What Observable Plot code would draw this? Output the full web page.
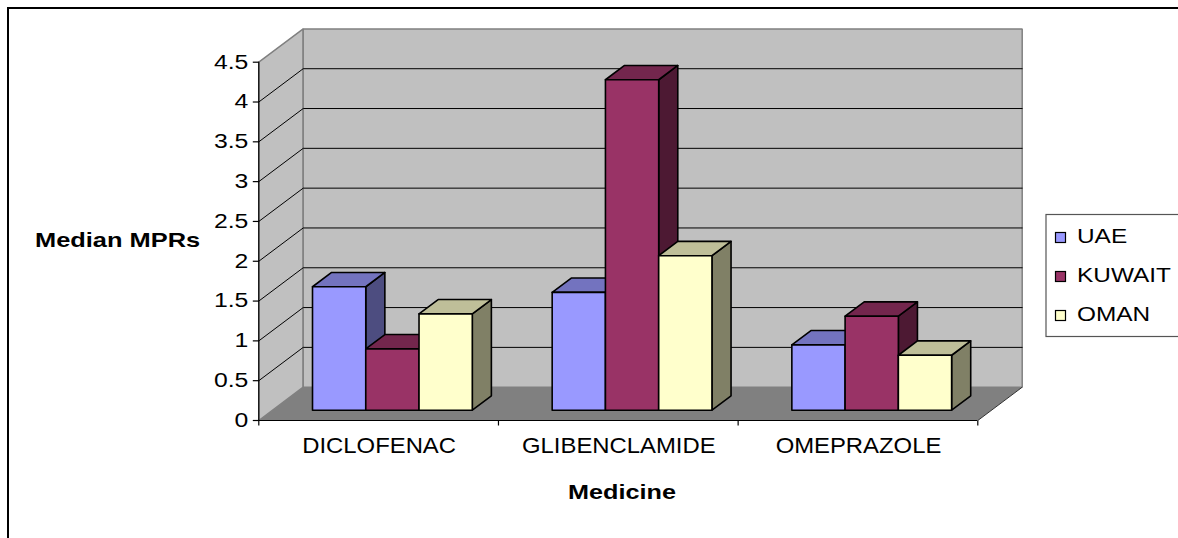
<!DOCTYPE html>
<html>
<head>
<meta charset="utf-8">
<script src="https://cdn.jsdelivr.net/npm/d3@7"></script>
<script src="https://cdn.jsdelivr.net/npm/@observablehq/plot@0.6"></script>
<style>
  html, body { margin: 0; padding: 0; background: #fff; overflow: hidden; }
  body { width: 1178px; height: 538px; position: relative; font-family: "Liberation Sans", Arial, sans-serif; }
  #chart { position: absolute; left: 0; top: 0; }
  #overlay { position: absolute; left: 0; top: 0; pointer-events: none; }
  #frame { position: absolute; left: 7px; top: 7px; width: 1400px; height: 800px; border: 2px solid #000; box-sizing: border-box; pointer-events: none; }
</style>
</head>
<body>
<div id="chart"></div>
<svg id="overlay" width="1178" height="538"></svg>
<div id="frame"></div>
<script>
// Median MPRs per medicine and country
const medicines = ["DICLOFENAC", "GLIBENCLAMIDE", "OMEPRAZOLE"];
const countries = ["UAE", "KUWAIT", "OMAN"];
const uae    = [1.55, 1.48, 0.82];
const kuwait = [0.77, 4.15, 1.18];
const oman   = [1.21, 1.94, 0.69];
const yTicks = [0, 0.5, 1, 1.5, 2, 2.5, 3, 3.5, 4, 4.5];
const yMax = 4.5;

// face colours: front, top, side
const palette = {
  UAE:    ["#9999FF", "#7373BF", "#4D4D80"],
  KUWAIT: ["#993366", "#73264D", "#4D1933"],
  OMAN:   ["#FFFFCC", "#BFBF99", "#808066"]
};
const seriesValues = {UAE: uae, KUWAIT: kuwait, OMAN: oman};

// plot area of the front plane, in pixels
const X_RANGE = [258.3, 977.3];
const Y_RANGE = [420, 61.7];
const pxPerX = (X_RANGE[1] - X_RANGE[0]) / medicines.length;
const pxPerY = (Y_RANGE[0] - Y_RANGE[1]) / yMax;
// oblique depth of the 3-D box, in pixels (right, up)
const DEPTH = [44.4, 33.3];
const BAR_FRONT = 0.31, BAR_BACK = 0.74;   // depth fraction occupied by the bars
const GAP = 1.5;                            // gap width relative to one bar
const barW = 1 / (countries.length + GAP);

// project a point (category units, value, depth fraction) to data coordinates
function proj(xu, v, d) {
  return {x: xu + d * DEPTH[0] / pxPerX, y: v + d * DEPTH[1] / pxPerY};
}
function polygon(rows, id, pts, fill) {
  pts.concat([pts[0]]).forEach(p => rows.push({id, fill, x: p.x, y: p.y}));
}

const nCat = medicines.length;

// walls and floor
const walls = [];
polygon(walls, "left", [proj(0, 0, 0), proj(0, 0, 1), proj(0, yMax, 1), proj(0, yMax, 0)], "#C0C0C0");
polygon(walls, "back", [proj(0, 0, 1), proj(nCat, 0, 1), proj(nCat, yMax, 1), proj(0, yMax, 1)], "#C0C0C0");
const floor = [];
polygon(floor, "floor", [proj(0, 0, 0), proj(nCat, 0, 0), proj(nCat, 0, 1), proj(0, 0, 1)], "#808080");

// gridlines: diagonal on the side wall + horizontal on the back wall
const grid = [];
yTicks.filter(t => t > 0 && t < yMax).forEach(t => {
  [proj(0, t, 0), proj(0, t, 1), proj(nCat, t, 1)].forEach(p => grid.push({id: t, x: p.x, y: p.y}));
});

// bars: side, top and front faces, drawn left to right
const bars = [];
medicines.forEach((m, i) => {
  countries.forEach((c, s) => {
    const v = seriesValues[c][i];
    const x0 = i + (GAP / 2) * barW + s * barW, x1 = x0 + barW;
    const [front, top, side] = palette[c];
    polygon(bars, `${m}-${c}-side`, [proj(x1, 0, BAR_FRONT), proj(x1, 0, BAR_BACK), proj(x1, v, BAR_BACK), proj(x1, v, BAR_FRONT)], side);
    polygon(bars, `${m}-${c}-top`, [proj(x0, v, BAR_FRONT), proj(x1, v, BAR_FRONT), proj(x1, v, BAR_BACK), proj(x0, v, BAR_BACK)], top);
    polygon(bars, `${m}-${c}-front`, [proj(x0, 0, BAR_FRONT), proj(x1, 0, BAR_FRONT), proj(x1, v, BAR_FRONT), proj(x0, v, BAR_FRONT)], front);
  });
});

const catEdges = d3.range(nCat + 1);

const chart = Plot.plot({
  width: 1178,
  height: 538,
  margin: 0,
  x: {type: "linear", domain: [0, nCat], range: X_RANGE, axis: null},
  y: {type: "linear", domain: [0, yMax], range: Y_RANGE, axis: null},
  color: {type: "identity"},
  style: {background: "transparent"},
  marks: [
    Plot.line(walls, {x: "x", y: "y", z: "id", fill: "fill", stroke: "#808080", strokeWidth: 1.5, strokeLinejoin: "miter"}),
    Plot.line(floor, {x: "x", y: "y", z: "id", fill: "fill", stroke: "none"}),
    // right edge of the floor
    Plot.link([0], {x1: () => proj(nCat, 0, 0).x, y1: () => proj(nCat, 0, 0).y, x2: () => proj(nCat, 0, 1).x, y2: () => proj(nCat, 0, 1).y, stroke: "#333", strokeWidth: 1}),
    Plot.line(grid, {x: "x", y: "y", z: "id", stroke: "#000", strokeWidth: 1}),
    // value axis and category axis
    Plot.ruleX([0], {y1: 0, y2: yMax, stroke: "#000", strokeWidth: 1.2}),
    Plot.ruleY([0], {x1: 0, x2: nCat, stroke: "#000", strokeWidth: 1.2}),
    Plot.link(yTicks, {x1: -6 / pxPerX, x2: 0, y1: d => d, y2: d => d, stroke: "#000", strokeWidth: 1.2}),
    Plot.link(catEdges, {x1: d => d, x2: d => d, y1: 0, y2: -5 / pxPerY, stroke: "#000", strokeWidth: 1.2}),
    Plot.line(bars, {x: "x", y: "y", z: "id", fill: "fill", stroke: "#000", strokeWidth: 1.6, strokeLinejoin: "round"})
  ]
});
document.getElementById("chart").appendChild(chart);

const xScale = chart.scale("x"), yScale = chart.scale("y");
const overlay = d3.select("#overlay");
const font = "'Liberation Sans', Arial, sans-serif";

// value tick labels (glyphs widened horizontally)
overlay.append("g")
  .attr("font-family", font).attr("font-size", 19.5).attr("text-anchor", "end")
  .selectAll("text").data(yTicks).join("text")
  .attr("transform", d => `translate(${xScale.apply(0) - 10},${yScale.apply(d) + 6.9}) scale(1.27,1)`)
  .text(d => String(d));

// category labels
overlay.append("g")
  .attr("font-family", font).attr("font-size", 21.5).attr("text-anchor", "middle")
  .selectAll("text").data(medicines).join("text")
  .attr("transform", (d, i) => `translate(${xScale.apply(i + 0.5) + 1},${yScale.apply(0) + 32.5}) scale(1.11,1)`)
  .text(d => d);

// axis titles
overlay.append("text")
  .attr("transform", "translate(35,246.7) scale(1.21,1)")
  .attr("font-family", font).attr("font-weight", "bold").attr("font-size", 21)
  .text("Median MPRs");
overlay.append("text")
  .attr("transform", "translate(622,499.3) scale(1.2,1)")
  .attr("text-anchor", "middle")
  .attr("font-family", font).attr("font-weight", "bold").attr("font-size", 21)
  .text("Medicine");

// legend
const legend = overlay.append("g").attr("transform", "translate(1045.5,214)");
legend.append("rect").attr("x", 0.5).attr("y", 0.5).attr("width", 200).attr("height", 122)
  .attr("fill", "#fff").attr("stroke", "#555").attr("stroke-width", 1.2);
countries.forEach((c, i) => {
  const base = 29 + i * 39;
  legend.append("rect").attr("x", 10).attr("y", base - 10.5).attr("width", 10).attr("height", 10)
    .attr("fill", palette[c][0]).attr("stroke", "#000").attr("stroke-width", 1.2);
  legend.append("text")
    .attr("transform", `translate(31.5,${base}) scale(1.22,1)`)
    .attr("font-family", font).attr("font-size", 20)
    .text(c);
});
</script>
</body>
</html>
